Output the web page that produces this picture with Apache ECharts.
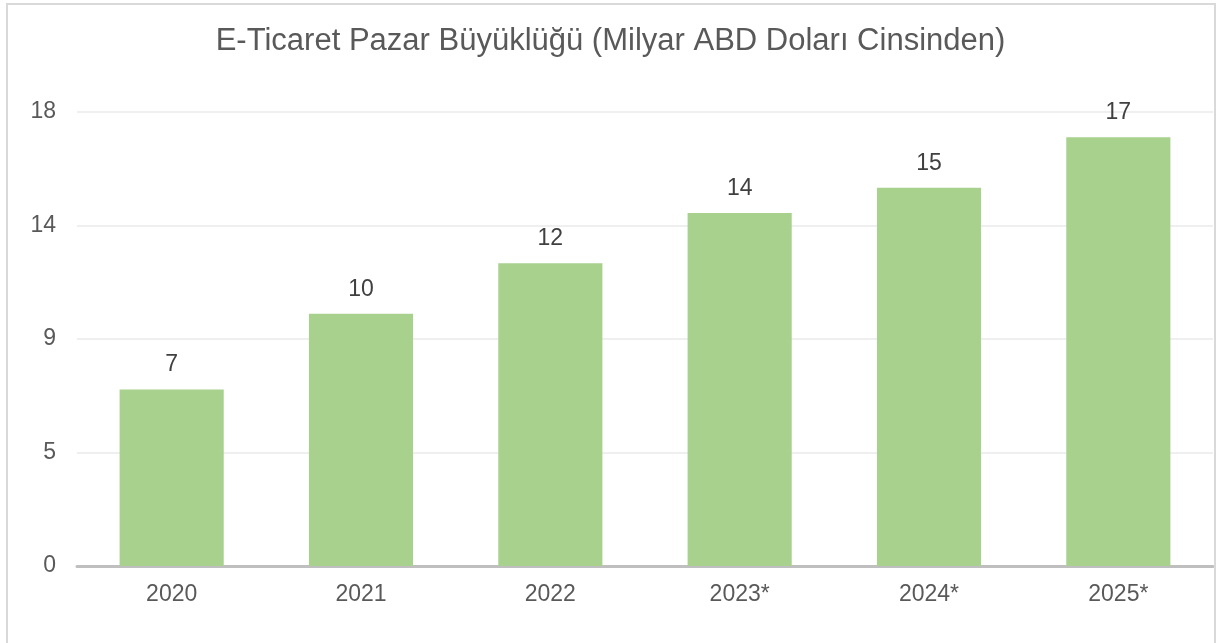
<!DOCTYPE html>
<html>
<head>
<meta charset="utf-8">
<script src="https://cdn.jsdelivr.net/npm/echarts@6/dist/echarts.min.js"></script>
<style>
  html, body { margin: 0; padding: 0; background: #fff; }
  #chart { width: 1221px; height: 643px; }
  #frame { position: absolute; left: 6px; top: 3px; width: 1206px; height: 645px;
           border: 2px solid #d9d9d9; pointer-events: none; }
</style>
</head>
<body>
<div id="chart"></div>
<div id="frame"></div>
<script>
// data
var years = ['2020', '2021', '2022', '2023*', '2024*', '2025*'];
var marketSize = [7, 10, 12, 14, 15, 17];
var yMin = 0, yMax = 18, yStep = 4.5;

var chart = echarts.init(document.getElementById('chart'));
var option = {
    animation: false,
    textStyle: { fontFamily: 'Liberation Sans, Arial, sans-serif' },
    title: {
        text: 'E-Ticaret Pazar Büyüklüğü (Milyar ABD Doları Cinsinden)',
        left: 'center',
        top: 21,
        textStyle: { fontSize: 31, fontWeight: 'normal', color: '#595959' }
    },
    grid: { left: 77, right: 8, top: 112, bottom: 77, containLabel: false },
    xAxis: {
        type: 'category',
        data: years,
        axisTick: { show: false },
        axisLine: { lineStyle: { color: '#bfbfbf', width: 3 } },
        axisLabel: { fontSize: 23, color: '#595959', margin: 17 }
    },
    yAxis: {
        type: 'value',
        min: yMin, max: yMax, interval: yStep,
        axisLine: { show: false },
        axisTick: { show: false },
        splitLine: { lineStyle: { color: '#efefef', width: 2 } },
        axisLabel: {
            fontSize: 23, color: '#595959', margin: 21,
            formatter: function (v) { return Math.round(v); }
        }
    },
    series: [{
        type: 'bar',
        data: marketSize,
        barWidth: '55%',
        itemStyle: { color: '#a9d18e' },
        label: {
            show: true, position: 'top', distance: 13,
            fontSize: 23, color: '#404040'
        }
    }]
};
chart.setOption(option);
</script>
</body>
</html>
